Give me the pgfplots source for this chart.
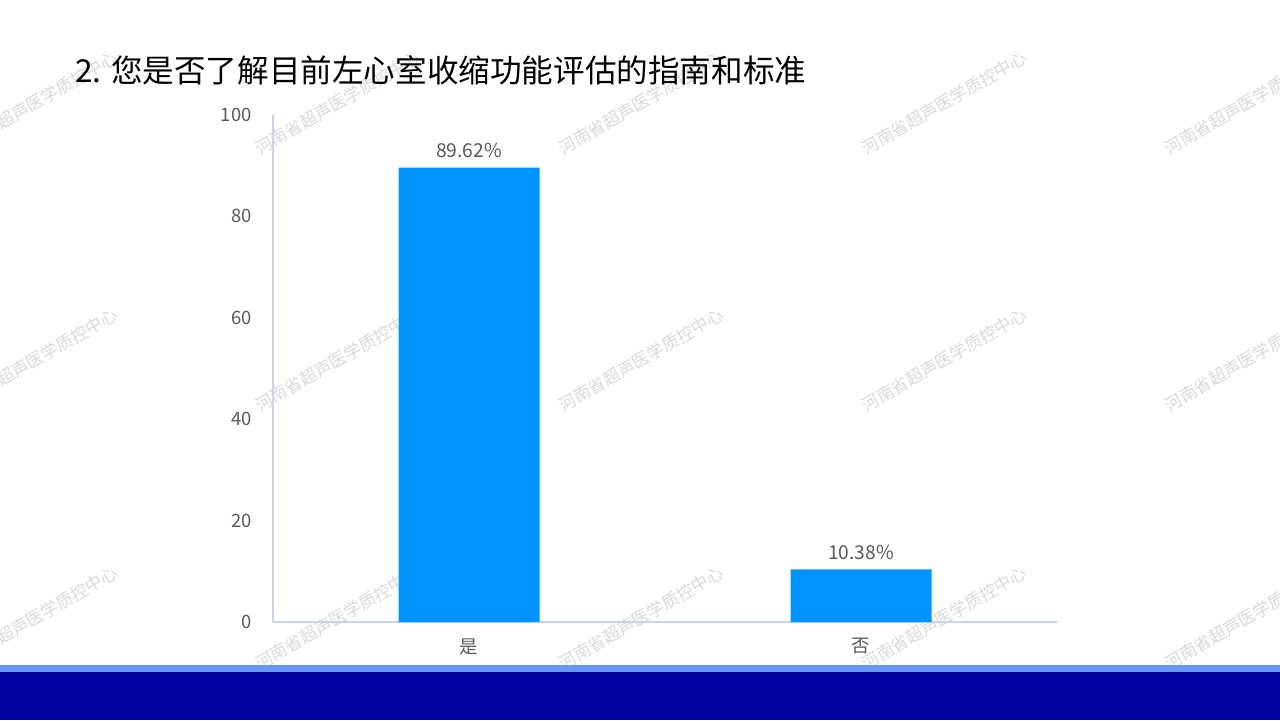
\documentclass[border=0pt]{standalone}
\usepackage{fontspec}
\setmainfont{Noto Sans CJK SC}
\usepackage{pgfplots}
\pgfplotsset{compat=1.18}

\definecolor{barblue}{RGB}{0,148,255}
\definecolor{axisline}{RGB}{200,212,236}
\definecolor{ticktext}{RGB}{89,89,89}
\definecolor{bandlight}{RGB}{102,153,238}
\definecolor{banddark}{RGB}{0,0,160}
\definecolor{wmark}{RGB}{218,218,218}

\begin{document}
\begin{tikzpicture}
\path[use as bounding box] (0,0) rectangle (640pt,360pt);
\clip (0,0) rectangle (640pt,360pt);
\fill[white] (0,0) rectangle (640pt,360pt);

% watermark grid
\foreach \cx in {35,338,641,944,1247}{
  \foreach \cy in {103,360,618}{
    \node[rotate=30, text=wmark, inner sep=0pt,
          font=\fontsize{8.5}{10}\selectfont]
      at ({\cx*0.5pt},{360pt-\cy*0.5pt}) {河南省超声医学质控中心};
  }
}

% title
\node[anchor=base west, inner sep=0pt, font=\fontsize{15.8}{19}\selectfont]
  at (37.5pt,319pt) {2. 您是否了解目前左心室收缩功能评估的指南和标准};

\begin{axis}[
  at={(136.5pt,49pt)}, anchor=south west,
  scale only axis, width=392pt, height=253.5pt,
  xmin=-0.5, xmax=1.5, ymin=0, ymax=100,
  axis x line*=bottom, axis y line*=left,
  axis line style={axisline, line width=0.75pt},
  xtick={0,1}, xticklabels={是,否},
  ytick={0,20,40,60,80,100},
  tick style={draw=none},
  /pgf/number format/assume math mode=true,
  ticklabel style={font=\fontsize{9.2}{10}\selectfont, text=ticktext},
  yticklabel style={anchor=east, inner sep=0pt, xshift=-10.5pt},
  xticklabel style={anchor=north, inner sep=0pt, yshift=-8pt},
  clip=false,
]
\addplot[ybar, bar width=70.5pt, fill=barblue, draw=none,
  point meta=explicit symbolic,
  nodes near coords,
  every node near coord/.append style={anchor=south, inner sep=0pt, yshift=4.5pt,
     font=\fontsize{9.6}{11}\selectfont, text=ticktext}]
  coordinates {(0,89.62) [89.62\%] (1,10.38) [10.38\%]};
\end{axis}

% footer band
\fill[bandlight] (0,24pt) rectangle (640pt,27.5pt);
\fill[banddark] (0,0) rectangle (640pt,24pt);
\end{tikzpicture}
\end{document}
